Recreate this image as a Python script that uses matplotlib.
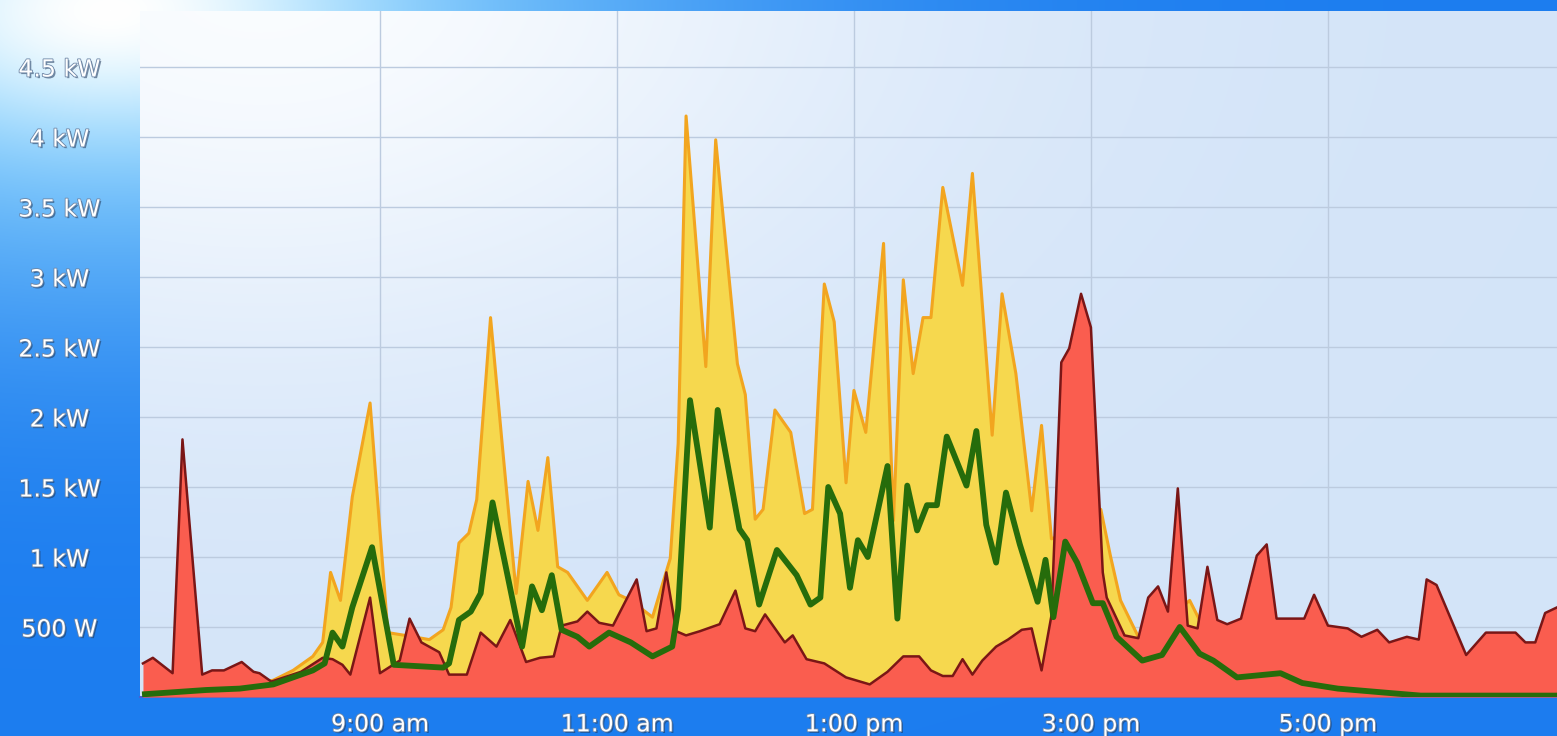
import numpy as np
import matplotlib
matplotlib.use("Agg")
import matplotlib.pyplot as plt
import matplotlib.patheffects as pe

#-----------------------------data------------------------------------------------
# time in minutes after 7:00 am, power in kW

gen_t = [1, 49, 66, 76, 86, 91, 95, 100, 106, 115, 124, 137, 145, 152, 156, 160, 165, 169,
         176, 182, 189, 195, 200, 205, 210, 215, 225, 235, 241, 247, 258, 267, 271, 275,
         285, 290, 301, 305, 310, 314, 320, 328, 335, 339, 345, 350, 356, 360, 366, 375,
         380, 385, 390, 395, 399, 405, 415, 420, 430, 435, 442, 450, 455, 460, 464, 474,
         485, 490, 495, 504, 515, 530, 540, 555, 576, 587, 605, 630, 647, 716]
gen_kw = [0.02, 0.07, 0.12, 0.19, 0.29, 0.39, 0.89, 0.69, 1.43, 2.10, 0.46, 0.43, 0.41, 0.48,
          0.64, 1.10, 1.17, 1.41, 2.71, 1.79, 0.74, 1.54, 1.19, 1.71, 0.93, 0.89, 0.69, 0.89,
          0.73, 0.69, 0.57, 0.99, 1.81, 4.15, 2.36, 3.98, 2.38, 2.16, 1.27, 1.34, 2.05, 1.89,
          1.31, 1.34, 2.95, 2.68, 1.53, 2.19, 1.89, 3.24, 1.26, 2.98, 2.31, 2.71, 2.71, 3.64,
          2.94, 3.74, 1.87, 2.88, 2.31, 1.33, 1.94, 1.13, 1.15, 1.26, 1.34, 1.00, 0.69, 0.43,
          0.51, 0.69, 0.41, 0.21, 0.23, 0.14, 0.09, 0.04, 0.02, 0.01]

use_t = [0, 5, 15, 20, 30, 35, 41, 50, 56, 59, 65, 80, 91, 96, 101, 105, 115, 120, 130, 135,
         141, 150, 155, 164, 171, 179, 186, 194, 201, 208, 212, 220, 225, 231, 238, 250, 255,
         260, 265, 270, 275, 282, 292, 300, 305, 310, 315, 325, 329, 336, 345, 356, 368, 377,
         385, 393, 399, 405, 410, 415, 420, 425, 432, 438, 445, 450, 455, 460, 465, 469, 475,
         480, 486, 488, 497, 504, 509, 514, 519, 524, 529, 534, 539, 544, 549, 556, 564, 569,
         574, 588, 593, 600, 610, 617, 625, 631, 640, 646, 650, 655, 670, 680, 695, 700, 705,
         710, 716]
use_kw = [0.24, 0.28, 0.17, 1.84, 0.16, 0.19, 0.19, 0.25, 0.18, 0.17, 0.11, 0.18, 0.28, 0.27,
          0.23, 0.16, 0.71, 0.17, 0.26, 0.56, 0.39, 0.32, 0.16, 0.16, 0.46, 0.36, 0.55, 0.25,
          0.28, 0.29, 0.51, 0.54, 0.61, 0.53, 0.51, 0.84, 0.47, 0.49, 0.89, 0.47, 0.44, 0.47,
          0.52, 0.76, 0.49, 0.47, 0.59, 0.39, 0.44, 0.27, 0.24, 0.14, 0.09, 0.18, 0.29, 0.29,
          0.19, 0.15, 0.15, 0.27, 0.16, 0.26, 0.36, 0.41, 0.48, 0.49, 0.19, 0.58, 2.39, 2.49,
          2.88, 2.64, 0.89, 0.71, 0.44, 0.42, 0.71, 0.79, 0.61, 1.49, 0.51, 0.49, 0.93, 0.55,
          0.52, 0.56, 1.01, 1.09, 0.56, 0.56, 0.73, 0.51, 0.49, 0.43, 0.48, 0.39, 0.43, 0.41,
          0.84, 0.80, 0.30, 0.46, 0.46, 0.39, 0.39, 0.60, 0.64]

net_t = [1, 32, 49, 66, 76, 86, 92, 96, 101, 106, 116, 127, 152, 155, 160, 166, 171, 177,
         192, 197, 202, 207, 212, 220, 226, 236, 247, 258, 268, 271, 277, 287, 291, 302, 306,
         312, 321, 331, 338, 343, 347, 353, 358, 362, 367, 377, 382, 387, 392, 397, 402, 407,
         417, 422, 427, 432, 437, 444, 453, 457, 461, 467, 473, 481, 486, 493, 506, 516, 525,
         535, 542, 554, 576, 587, 605, 630, 647, 716]
net_kw = [0.02, 0.05, 0.06, 0.09, 0.14, 0.19, 0.24, 0.46, 0.36, 0.64, 1.07, 0.23, 0.21, 0.24,
          0.55, 0.61, 0.74, 1.39, 0.36, 0.79, 0.62, 0.87, 0.48, 0.43, 0.36, 0.46, 0.39, 0.29,
          0.36, 0.63, 2.12, 1.21, 2.05, 1.20, 1.12, 0.66, 1.05, 0.87, 0.66, 0.71, 1.50, 1.31,
          0.78, 1.12, 1.00, 1.65, 0.56, 1.51, 1.19, 1.37, 1.37, 1.86, 1.51, 1.90, 1.23, 0.96,
          1.46, 1.09, 0.68, 0.98, 0.57, 1.11, 0.96, 0.67, 0.67, 0.43, 0.26, 0.30, 0.50, 0.31,
          0.26, 0.14, 0.17, 0.10, 0.06, 0.03, 0.01, 0.01]

x_ticks = [120, 240, 360, 480, 600]
x_labels = ["9:00 am", "11:00 am", "1:00 pm", "3:00 pm", "5:00 pm"]
y_ticks = [0.5, 1, 1.5, 2, 2.5, 3, 3.5, 4, 4.5]
y_labels = ["500 W", "1 kW", "1.5 kW", "2 kW", "2.5 kW", "3 kW", "3.5 kW", "4 kW", "4.5 kW"]

#-----------------------------background-------------------------------------------
W, H = 1557, 736
yy, xx = np.mgrid[0:H, 0:W]

base = np.array([0.11, 0.49, 0.94])
cyan = np.array([0.58, 0.86, 1.0])
d = np.hypot((xx - 110) / 2.0, (yy - 10) / 1.0)
g1 = np.exp(-(d / 300.0) ** 2)
g2 = np.exp(-(d / 110.0) ** 2)
fig_bg = base + (cyan - base) * g1[..., None]
fig_bg = fig_bg + (1 - fig_bg) * g2[..., None]

plot_base = np.array([0.83, 0.895, 0.975])
d2 = np.hypot((xx - 260) / 1.6, (yy + 20) / 1.0)
g3 = np.exp(-(d2 / 380.0) ** 2)
plot_bg = plot_base + (np.array([0.98, 0.99, 1.0]) - plot_base) * g3[..., None]

ax_l, ax_r, ax_t, ax_b = 140, 1557, 11, 697
xmin, xmax = -1.5, 716
ymax = (ax_b - ax_t) / 140.0

#-----------------------------figure-----------------------------------------------
fig = plt.figure(figsize=(W / 100, H / 100), dpi=100)
bg_ax = fig.add_axes([0, 0, 1, 1], zorder=-10)
bg_ax.imshow(fig_bg, aspect="auto", interpolation="bilinear")
bg_ax.axis("off")

ax = fig.add_axes([ax_l / W, (H - ax_b) / H, (ax_r - ax_l) / W, (ax_b - ax_t) / H])
ax.imshow(plot_bg[ax_t:ax_b, ax_l:ax_r], extent=[xmin, xmax, 0, ymax], aspect="auto",
          zorder=-1, interpolation="bilinear")

ax.fill_between(gen_t, gen_kw, 0, color="#f6d84e", lw=0, zorder=2)
ax.plot(gen_t, gen_kw, color="#f2a51f", lw=2.2, zorder=3)
ax.fill_between(use_t, use_kw, 0, color="#fa5d4f", lw=0, zorder=4)
ax.plot(use_t, use_kw, color="#7a1616", lw=1.8, zorder=5)
ax.plot(net_t, net_kw, color="#266c0b", lw=4.2, zorder=6)

ax.set_xlim(xmin, xmax)
ax.set_ylim(0, ymax)
ax.set_xticks(x_ticks)
ax.set_xticklabels(x_labels)
ax.set_yticks(y_ticks)
ax.set_yticklabels(y_labels)
ax.grid(True, color="#bccbdf", lw=1.0, zorder=1)
ax.set_axisbelow(True)
ax.tick_params(length=0, labelsize=17, labelcolor="white")
ax.tick_params(axis="y", pad=58)
ax.tick_params(axis="x", pad=11)

effects = [pe.withSimplePatchShadow(offset=(1.2, -1.2), shadow_rgbFace="#1d3557", alpha=0.55),
           pe.withStroke(linewidth=1.2, foreground="#6d86a6")]
for lab in ax.get_yticklabels():
    lab.set_horizontalalignment("center")
    lab.set_verticalalignment("center_baseline")
    lab.set_path_effects(effects)
for lab in ax.get_xticklabels():
    lab.set_path_effects(effects)

for s in ["top", "right", "left"]:
    ax.spines[s].set_visible(False)
ax.spines["bottom"].set_color("#4b5fd0")
ax.spines["bottom"].set_linewidth(1.5)

fig.savefig("out.png", dpi=100)
